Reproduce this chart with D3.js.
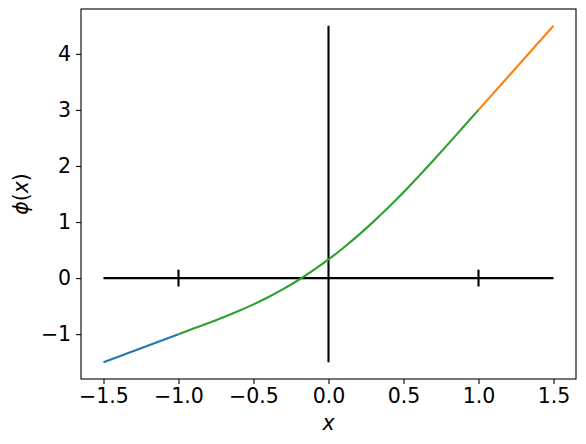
<!DOCTYPE html>
<html>
<head>
<meta charset="utf-8">
<script src="https://cdn.jsdelivr.net/npm/d3@7"></script>
<style>
  html, body { margin: 0; padding: 0; background: #fff; }
  svg { display: block; font-family: "DejaVu Sans", sans-serif; }
</style>
</head>
<body>
<svg id="chart" width="586" height="444"></svg>
<script>
// Data
const blueX = [-1.5, -1.0];
const blueY = [-1.5, -1.0];
const orangeX = [1.0, 1.5];
const orangeY = [3.0, 4.5];
const greenX = [-1.0, -0.9, -0.8, -0.7, -0.6, -0.5, -0.4, -0.3, -0.2, -0.1, 0.0, 0.1, 0.2, 0.3, 0.4, 0.5, 0.6, 0.7, 0.8, 0.9, 1.0];
const greenY = [-1.0, -0.901, -0.802, -0.699, -0.588, -0.469, -0.338, -0.193, -0.034, 0.142, 0.333, 0.542, 0.767, 1.007, 1.262, 1.531, 1.812, 2.101, 2.398, 2.699, 3.0];
const hAxisX = [-1.5, 1.5];
const vAxisY = [-1.5, 4.5];
const markX = [-1, 1];
const markHalf = 0.15;
const xTicks = [-1.5, -1.0, -0.5, 0.0, 0.5, 1.0, 1.5];
const yTicks = [-1, 0, 1, 2, 3, 4];

const svg = d3.select("#chart");
const L = 81, R = 576, T = 9, B = 379;
const x = d3.scaleLinear().domain([-1.65, 1.65]).range([L, R]);
const y = d3.scaleLinear().domain([-1.8, 4.8]).range([B, T]);

const fmtMinus = s => s.replace("-", "\u2212");

// Axes
const xAxis = d3.axisBottom(x).tickValues(xTicks).tickSize(4.9).tickPadding(5)
  .tickFormat(d => fmtMinus(d3.format(".1f")(d)));
const yAxis = d3.axisLeft(y).tickValues(yTicks).tickSize(4.9).tickPadding(5)
  .tickFormat(d => fmtMinus(d3.format("d")(d)));

const gx = svg.append("g").attr("transform", `translate(0,${B})`).call(xAxis);
const gy = svg.append("g").attr("transform", `translate(${L},0)`).call(yAxis);
[gx, gy].forEach(g => {
  g.select(".domain").remove();
  g.selectAll(".tick line").attr("stroke", "#000").attr("stroke-width", 1.1);
  g.selectAll(".tick text").attr("fill", "#000").style("font-size", "20.5px")
    .style("font-family", "'DejaVu Sans', sans-serif");
});

// Frame
svg.append("rect").attr("x", L).attr("y", T).attr("width", R - L).attr("height", B - T)
  .attr("fill", "none").attr("stroke", "#000").attr("stroke-width", 1.1);

const line = d3.line().x(d => x(d[0])).y(d => y(d[1]));
const smooth = d3.line().x(d => x(d[0])).y(d => y(d[1])).curve(d3.curveMonotoneX);

// Black reference lines
svg.append("path").attr("d", line(hAxisX.map(v => [v, 0])))
  .attr("stroke", "#000").attr("stroke-width", 2.1).attr("fill", "none");
svg.append("path").attr("d", line(vAxisY.map(v => [0, v])))
  .attr("stroke", "#000").attr("stroke-width", 2.1).attr("fill", "none");
markX.forEach(m => {
  svg.append("path").attr("d", line([[m, -markHalf], [m, markHalf]]))
    .attr("stroke", "#000").attr("stroke-width", 2.1).attr("fill", "none");
});

// Function pieces
svg.append("path").attr("d", line(blueX.map((v, i) => [v, blueY[i]])))
  .attr("stroke", "#1f77b4").attr("stroke-width", 2.1).attr("fill", "none");
svg.append("path").attr("d", line(orangeX.map((v, i) => [v, orangeY[i]])))
  .attr("stroke", "#ff7f0e").attr("stroke-width", 2.1).attr("fill", "none");
svg.append("path").attr("d", smooth(greenX.map((v, i) => [v, greenY[i]])))
  .attr("stroke", "#2ca02c").attr("stroke-width", 2.1).attr("fill", "none");

// Labels
svg.append("text").attr("x", (L + R) / 2).attr("y", 430)
  .attr("text-anchor", "middle").style("font-size", "20.5px").style("font-style", "italic")
  .text("x");
svg.append("text").attr("transform", `translate(28,${(T + B) / 2}) rotate(-90)`)
  .attr("text-anchor", "middle").style("font-size", "20.5px")
  .html('<tspan font-style="italic">ϕ</tspan>(<tspan font-style="italic">x</tspan>)');
</script>
</body>
</html>
